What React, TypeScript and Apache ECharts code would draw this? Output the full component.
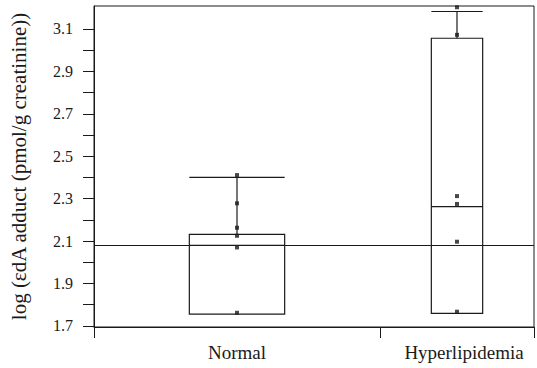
import React, { useEffect, useRef } from "react";
import * as echarts from "echarts";

const categories = ["Normal", "Hyperlipidemia"];
const categoryX = [1.95, 4.95];
const boxWidth = [1.3, 0.7];
const q1 = [1.756, 1.759];
const median = [2.08, 2.262];
const q3 = [2.132, 3.056];
const whiskerHigh = [2.4, 3.182];
const normalPoints = [2.411, 2.278, 2.163, 2.125, 2.07, 1.762];
const hyperPoints = [3.202, 3.072, 2.312, 2.275, 2.097, 1.767];
const refLineValue = 2.08;
const yTickValues = [1.7, 1.8, 1.9, 2.0, 2.1, 2.2, 2.3, 2.4, 2.5, 2.6, 2.7, 2.8, 2.9, 3.0, 3.1];
const yLabelValues = [1.7, 1.9, 2.1, 2.3, 2.5, 2.7, 2.9, 3.1];
const xTickValues = [0, 3.9, 6];

const FONT = "'Liberation Serif', 'DejaVu Serif', serif";
const INK = "#1a1a1a";

export default function App() {
  const ref = useRef<HTMLDivElement>(null);

  useEffect(() => {
    if (!ref.current) return;
    const chart = echarts.init(ref.current, null, { renderer: "svg" });

    const boxData = categories.map((_, i) => [
      categoryX[i],
      q1[i],
      median[i],
      q3[i],
      whiskerHigh[i],
      boxWidth[i],
    ]);
    const pointData: number[][] = [];
    normalPoints.forEach((v) => pointData.push([categoryX[0], v]));
    hyperPoints.forEach((v) => pointData.push([categoryX[1], v]));

    chart.setOption({
      animation: false,
      grid: {
        left: 88,
        right: 3,
        top: 6,
        bottom: 41,
        show: true,
        borderColor: INK,
        borderWidth: 1,
        backgroundColor: "transparent",
      },
      xAxis: {
        type: "value",
        min: 0,
        max: 6,
        splitLine: { show: false },
        axisLine: { show: true, onZero: false, lineStyle: { color: INK, width: 1 } },
        axisTick: {
          show: true,
          inside: false,
          length: 11,
          customValues: xTickValues,
          lineStyle: { color: INK, width: 1 },
        },
        axisLabel: {
          show: true,
          customValues: categoryX,
          margin: 16,
          fontFamily: FONT,
          fontSize: 19,
          color: INK,
          formatter: (v: number) => {
            let best = 0;
            categoryX.forEach((c, i) => {
              if (Math.abs(c - v) < Math.abs(categoryX[best] - v)) best = i;
            });
            return best === 1 ? "{h|" + categories[best] + "}" : categories[best];
          },
          rich: {
            h: { fontFamily: FONT, fontSize: 19, color: INK, padding: [0, 0, 0, 14] },
          },
        },
      },
      yAxis: {
        type: "value",
        min: 1.695,
        max: 3.208,
        name: "log (εdA adduct (pmol/g creatinine))",
        nameLocation: "middle",
        nameRotate: 90,
        nameGap: 65,
        nameTextStyle: { fontFamily: FONT, fontSize: 21, color: INK, padding: [0, 0, 0, 0] },
        splitLine: { show: false },
        axisLine: { show: true, lineStyle: { color: INK, width: 1 } },
        axisTick: {
          show: true,
          length: 11,
          customValues: yTickValues,
          lineStyle: { color: INK, width: 1 },
        },
        axisLabel: {
          show: true,
          customValues: yLabelValues,
          margin: 21,
          fontFamily: FONT,
          fontSize: 16,
          color: INK,
          formatter: (v: number) => v.toFixed(1),
        },
      },
      series: [
        {
          type: "custom",
          encode: { x: 0, y: [1, 3, 4] },
          data: boxData,
          renderItem: (params: any, api: any) => {
            const x = api.value(0);
            const w = api.value(5);
            const lo = api.coord([x - w / 2, api.value(1)]);
            const hi = api.coord([x + w / 2, api.value(3)]);
            const med = api.coord([x, api.value(2)]);
            const top = api.coord([x, api.value(4)]);
            const style = { stroke: INK, lineWidth: 1.2, fill: "none" };
            return {
              type: "group",
              children: [
                {
                  type: "rect",
                  shape: { x: lo[0], y: hi[1], width: hi[0] - lo[0], height: lo[1] - hi[1] },
                  style,
                },
                {
                  type: "line",
                  shape: { x1: lo[0], y1: med[1], x2: hi[0], y2: med[1] },
                  style,
                },
                {
                  type: "line",
                  shape: { x1: med[0], y1: hi[1], x2: med[0], y2: top[1] },
                  style,
                },
                {
                  type: "line",
                  shape: { x1: lo[0], y1: top[1], x2: hi[0], y2: top[1] },
                  style,
                },
              ],
            };
          },
          markLine: {
            silent: true,
            symbol: ["none", "none"],
            label: { show: false },
            lineStyle: { color: INK, width: 1, type: "solid" },
            data: [{ yAxis: refLineValue }],
          },
          z: 2,
        },
        {
          type: "scatter",
          data: pointData,
          symbol: "rect",
          symbolSize: 4,
          itemStyle: { color: INK },
          z: 3,
        },
      ],
    });

    return () => chart.dispose();
  }, []);

  return (
    <div
      ref={ref}
      style={{ position: "absolute", left: 0, top: 0, width: 537, height: 368 }}
    />
  );
}
